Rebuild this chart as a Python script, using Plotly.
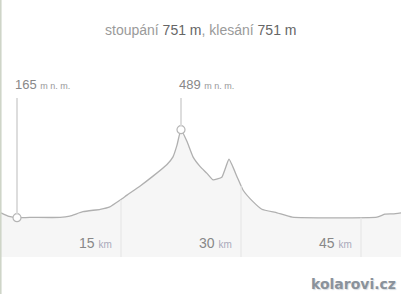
import numpy as np
import plotly.graph_objects as go

# Data: distance (km) and elevation (m n. m.)
km = [0, 1, 2, 3.6, 7.4, 8.6, 10.25, 12.4, 13.6, 14.9, 15.75, 17.4, 19, 20.75, 21.5, 22, 22.5,
      23.25, 24, 24.9, 25.75, 26.5, 27.6, 28.5, 29.5, 30.25, 31.5, 32.6, 34.5, 36.4, 47, 48, 49, 50]
elev = [183, 170, 165, 166, 166, 171, 187, 196, 205, 230, 248, 282, 318, 361, 389, 432, 489,
        445, 389, 353, 328, 304, 314, 380, 316, 267, 224, 196, 183, 167, 167, 178, 179, 183]
grid_km = [15, 30, 45]
grid_labels = ["15", "30", "45"]
climb = 751
descent = 751

W, H = 401, 294
Y_LO, Y_HI = 20.4, 966.0
BOTTOM_PX = 257

def py(px):
    return 1 - px / H

fig = go.Figure()
fig.add_trace(go.Scatter(x=km, y=elev, mode="lines", fill="tozeroy", line_shape="spline",
                         line_smoothing=0.4,
                         fillcolor="#f6f6f6", line=dict(color="#b0b0b0", width=1.3),
                         hoverinfo="skip"))

shapes = []
# gridlines from bottom up to curve
for g in grid_km:
    top = float(np.interp(g, km, elev))
    shapes.append(dict(type="line", xref="x", yref="y", x0=g, x1=g, y0=Y_LO, y1=top - 2,
                       line=dict(color="#e8e8e8", width=1.2), layer="above"))

# min/max markers
i_min = int(np.argmin(elev))
i_max = int(np.argmax(elev))
annotations = []
for i in (i_min, i_max):
    shapes.append(dict(type="line", xref="x", yref="paper", x0=km[i], x1=km[i],
                       y0=py(98), y1=py(217.7 - (elev[i] - 165) / 3.68 - 4),
                       line=dict(color="#dddddd", width=2)))
    annotations.append(dict(xref="x", yref="paper", x=km[i], y=py(84), xanchor="left",
                            yanchor="middle", xshift=-4, showarrow=False,
                            text=f"{elev[i]} <span style='font-size:9px;color:#999'>m n. m.</span>",
                            font=dict(family="Liberation Sans, Arial", size=13, color="#888")))

fig.add_trace(go.Scatter(x=[km[i_min], km[i_max]], y=[elev[i_min], elev[i_max]], mode="markers",
                         marker=dict(size=8, color="white", line=dict(color="#b5b5b5", width=1.2)),
                         hoverinfo="skip"))

# left border strip
shapes.append(dict(type="line", xref="paper", yref="paper", x0=0.002, x1=0.002, y0=0, y1=1,
                   line=dict(color="#cdd3c6", width=1.5)))

for g, lab in zip(grid_km, grid_labels):
    annotations.append(dict(xref="x", yref="paper", x=g, y=py(243), xanchor="right",
                            yanchor="middle", xshift=-7, showarrow=False,
                            text=f"{lab} <span style='font-size:10px;color:#aab'>km</span>",
                            font=dict(family="Liberation Sans, Arial", size=14, color="#888")))

annotations.append(dict(xref="paper", yref="paper", x=0.5, y=py(30), xanchor="center",
                        yanchor="middle", showarrow=False,
                        text=(f"stoupání <span style='color:#666'>{climb} m</span>, "
                              f"klesání <span style='color:#666'>{descent} m</span>"),
                        font=dict(family="Liberation Sans, Arial", size=14, color="#9a9a9a")))

annotations.append(dict(xref="paper", yref="paper", x=398 / W, y=py(284), xanchor="right",
                        yanchor="middle", showarrow=False, text="<b>kolarovi.cz</b>",
                        font=dict(family="DejaVu Sans", size=14, color="#8a929b",
                                  shadow="1px 1px 1px #d8dce0")))

fig.update_layout(
    width=W, height=H, margin=dict(l=0, r=0, t=0, b=0),
    paper_bgcolor="white", plot_bgcolor="white", showlegend=False,
    xaxis=dict(range=[-0.125, 50], showgrid=False, zeroline=False, showticklabels=False,
               domain=[0, 1], fixedrange=True),
    yaxis=dict(range=[Y_LO, Y_HI], showgrid=False, zeroline=False, showticklabels=False,
               domain=[1 - BOTTOM_PX / H, 1], fixedrange=True),
    shapes=shapes, annotations=annotations,
)
fig.write_html("out.html", config={"displayModeBar": False})
